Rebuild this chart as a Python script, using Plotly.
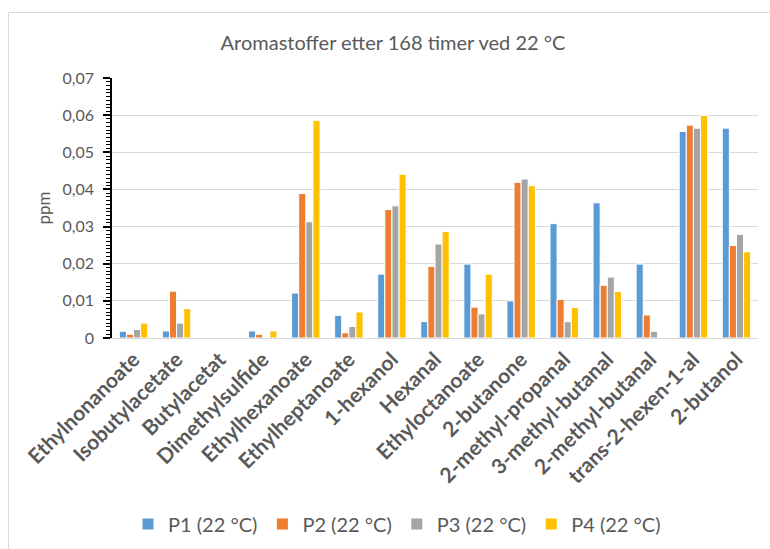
import plotly.graph_objects as go

categories = [
    "Ethylnonanoate", "Isobutylacetate", "Butylacetat", "Dimethylsulfide",
    "Ethylhexanoate", "Ethylheptanoate", "1-hexanol", "Hexanal",
    "Ethyloctanoate", "2-butanone", "2-methyl-propanal", "3-methyl-butanal",
    "2-methyl-butanal", "trans-2-hexen-1-al", "2-butanol",
]

p1 = [0.0018, 0.0019, 0.0, 0.0019, 0.0121, 0.0061, 0.0172, 0.0044,
      0.0199, 0.0100, 0.0308, 0.0364, 0.0199, 0.0556, 0.0565]
p2 = [0.0010, 0.0126, 0.0, 0.0010, 0.0389, 0.0014, 0.0346, 0.0193,
      0.0083, 0.0419, 0.0104, 0.0142, 0.0062, 0.0573, 0.0249]
p3 = [0.0023, 0.0040, 0.0, 0.0, 0.0313, 0.0031, 0.0356, 0.0253,
      0.0065, 0.0428, 0.0044, 0.0164, 0.0018, 0.0565, 0.0279]
p4 = [0.0040, 0.0079, 0.0, 0.0019, 0.0586, 0.0070, 0.0441, 0.0287,
      0.0172, 0.0410, 0.0082, 0.0125, 0.0, 0.0599, 0.0232]

series = [
    ("P1 (22 °C)", p1, "#5B9BD5"),
    ("P2 (22 °C)", p2, "#ED7D31"),
    ("P3 (22 °C)", p3, "#A5A5A5"),
    ("P4 (22 °C)", p4, "#FFC000"),
]

FONT = "Lato, 'Open Sans', sans-serif"
GREY_TEXT = "#595959"

fig = go.Figure()
for name, vals, color in series:
    fig.add_trace(go.Bar(
        x=categories, y=vals, name=name, legendgroup=name, showlegend=False,
        marker=dict(color=color, line=dict(color="white", width=1)),
    ))
# square legend keys
for name, vals, color in series:
    fig.add_trace(go.Scatter(
        x=[None], y=[None], mode="markers", name=name, legendgroup=name,
        marker=dict(symbol="square", size=11, color=color),
        hoverinfo="skip",
    ))

# plot area geometry in pixels
W, H = 770, 549
L, R, T, B = 112, 12, 78, 211
pw, ph = W - L - R, H - T - B

def px_to_paper_x(px):
    return (px - L) / pw

def px_to_paper_y(py):
    return (H - B - py) / ph

fig.update_layout(
    width=W, height=H,
    margin=dict(l=L, r=R, t=T, b=B, autoexpand=False),
    paper_bgcolor="white", plot_bgcolor="white",
    separators=", ",
    barmode="group", bargap=0.34, bargroupgap=0.0,
    font=dict(family=FONT, color=GREY_TEXT),
    title=dict(
        text="Aromastoffer etter 168 timer ved 22 °C",
        font=dict(size=20, color=GREY_TEXT, family=FONT),
        x=px_to_paper_x(393), xref="paper", xanchor="center",
        y=1 - 43 / H, yanchor="middle",
    ),
    legend=dict(
        orientation="h",
        x=px_to_paper_x(397), xanchor="center",
        y=px_to_paper_y(524), yanchor="middle",
        font=dict(size=20, color=GREY_TEXT, family=FONT),
        itemwidth=30,
        traceorder="normal",
    ),
    xaxis=dict(
        type="category",
        tickangle=-45,
        tickfont=dict(size=21, color=GREY_TEXT, family=FONT, weight="bold"),
        showline=True, linecolor="#D9D9D9", linewidth=1,
        ticks="", showgrid=False,
    ),
    yaxis=dict(
        range=[0, 0.07], dtick=0.01, tick0=0,
        tickfont=dict(size=16, color=GREY_TEXT, family=FONT),
        ticklabelstandoff=6,
        showgrid=True, gridcolor="#D9D9D9", gridwidth=1,
        showline=True, linecolor="black", linewidth=1.5,
        ticks="outside", ticklen=7, tickwidth=1.5, tickcolor="black",
        minor=dict(dtick=0.001, ticks="outside", ticklen=4,
                   tickwidth=1, tickcolor="black", showgrid=False),
        title=dict(text="ppm", font=dict(size=17, color=GREY_TEXT, family=FONT),
                   standoff=8),
        zeroline=False,
    ),
    showlegend=True,
)

# outer chart border
fig.add_shape(
    type="rect", xref="paper", yref="paper", layer="below",
    x0=px_to_paper_x(8.5), x1=px_to_paper_x(790),
    y0=px_to_paper_y(580), y1=px_to_paper_y(12.5),
    line=dict(color="#D9D9D9", width=1), fillcolor="rgba(0,0,0,0)",
)

fig.write_html("out.html")
